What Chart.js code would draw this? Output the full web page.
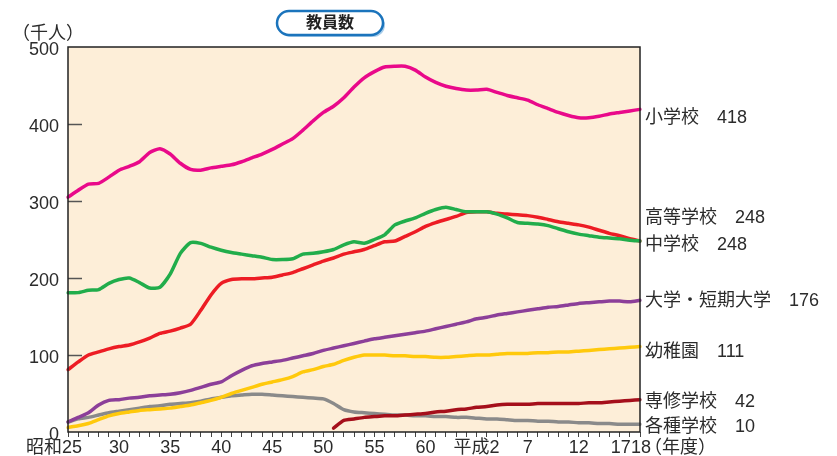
<!DOCTYPE html>
<html>
<head>
<meta charset="utf-8">
<script src="https://cdn.jsdelivr.net/npm/chart.js@4.4.0/dist/chart.umd.min.js"></script>
<style>
  html, body { margin: 0; padding: 0; background: #fff; }
  #wrap { position: relative; width: 837px; height: 456px; }
</style>
</head>
<body>
<div id="wrap"><canvas id="c"></canvas></div>
<script>
// fiscal years, 昭和25 (1950) .. 平成18 (2006)
const categories = [
  '昭和25','昭和26','昭和27','昭和28','昭和29','昭和30','昭和31','昭和32','昭和33','昭和34',
  '昭和35','昭和36','昭和37','昭和38','昭和39','昭和40','昭和41','昭和42','昭和43','昭和44',
  '昭和45','昭和46','昭和47','昭和48','昭和49','昭和50','昭和51','昭和52','昭和53','昭和54',
  '昭和55','昭和56','昭和57','昭和58','昭和59','昭和60','昭和61','昭和62','昭和63','平成元',
  '平成2','平成3','平成4','平成5','平成6','平成7','平成8','平成9','平成10','平成11',
  '平成12','平成13','平成14','平成15','平成16','平成17','平成18'
];

// x axis tick labels (which category, what text)
const tickCats = ['昭和25','昭和30','昭和35','昭和40','昭和45','昭和50','昭和55','昭和60','平成2','平成7','平成12','平成17','平成18'];
const tickLabels = ['昭和25','30','35','40','45','50','55','60','平成2','7','12','17','18'];
const yTicks = [0, 100, 200, 300, 400, 500];

// teachers, thousands
const elementary = [
  305,314,322,323,331,340,345,351,363,368,
  361,349,341,340,343,345,347,351,356,361,
  367,374,381,392,404,415,423,434,448,460,
  468,474,475,475,470,461,454,449,446,444,
  444,445,441,437,434,431,425,420,415,411,
  408,408,410,413,415,417,419
];
const juniorHigh = [
  181,181,184,185,193,198,200,194,187,188,
  205,232,246,245,240,236,233,231,229,227,
  224,224,225,231,232,234,237,243,247,245,
  250,256,269,274,278,284,289,292,289,286,
  286,286,283,278,272,271,270,268,264,260,
  257,255,253,252,251,249,248
];
const highSchool = [
  81,91,100,104,108,111,113,117,122,128,
  131,135,140,158,178,193,198,199,199,200,
  201,204,207,212,217,222,226,231,234,237,
  242,247,248,254,260,267,272,276,280,285,
  286,286,284,283,282,281,279,276,273,271,
  269,266,262,258,255,251,248
];
const university = [
  13,19,25,35,41,42,44,45,47,48,
  49,51,54,58,62,65,73,80,86,89,
  91,93,96,99,102,106,109,112,115,118,
  121,123,125,127,129,131,134,137,140,143,
  147,149,152,154,156,158,160,162,163,165,
  167,168,169,170,170,169,171
];
const kindergarten = [
  6,8,11,16,21,24,26,28,29,30,
  31,33,35,38,41,45,50,54,58,62,
  65,68,72,78,81,85,88,93,97,100,
  100,100,99,99,98,98,97,97,98,99,
  100,100,101,102,102,102,103,103,104,104,
  105,106,107,108,109,110,111
];
const specialTraining = [
  null,null,null,null,null,null,null,null,null,null,
  null,null,null,null,null,null,null,null,null,null,
  null,null,null,null,null,null,5,15,17,19,
  20,21,21,22,23,24,26,27,29,30,
  32,33,35,36,36,36,37,37,37,37,
  37,38,38,39,40,41,42
];
const miscSchools = [
  13,17,19,22,25,27,29,31,33,34,
  36,37,38,40,43,45,47,48,49,49,
  48,47,46,45,44,43,37,29,26,25,
  24,23,22,22,21,21,20,20,19,19,
  18,17,17,16,15,15,14,14,13,13,
  12,12,11,11,10,10,10
];

const seriesNames = ['小学校','中学校','高等学校','大学・短期大学','幼稚園','専修学校','各種学校'];
const latestValues = [418, 248, 248, 176, 111, 42, 10];
const seriesColors = ['#e9098a','#21ad4b','#ed1c24','#8c3f99','#ffc90c','#a50f1b','#8a8a8a'];

const FONT = "'Liberation Sans', 'Noto Sans CJK JP', sans-serif";
const TEXT = '#2b2b2b';

const decorate = {
  id: 'decorate',
  beforeDraw(chart) {
    const { ctx, chartArea: a } = chart;
    ctx.save();
    ctx.fillStyle = '#fdeed8';
    ctx.fillRect(a.left, a.top, a.right - a.left, a.bottom - a.top);
    ctx.restore();
  },
  beforeDatasetsDraw(chart) {
    const { ctx, chartArea: a, scales } = chart;
    ctx.save();
    ctx.strokeStyle = '#555';
    ctx.lineWidth = 1.5;
    yTicks.slice(1, -1).forEach(v => {
      const y = Math.round(scales.y.getPixelForValue(v)) + 0.5;
      ctx.beginPath();
      ctx.moveTo(a.left, y);
      ctx.lineTo(a.left + 14, y);
      ctx.stroke();
    });
    ctx.restore();
  },
  afterDraw(chart) {
    const { ctx, chartArea: a, scales } = chart;
    ctx.save();
    // plot frame
    ctx.strokeStyle = '#222';
    ctx.lineWidth = 1.5;
    ctx.strokeRect(a.left, a.top, a.right - a.left, a.bottom - a.top);

    // x labels
    ctx.fillStyle = TEXT;
    ctx.font = '18px ' + FONT;
    ctx.textBaseline = 'alphabetic';
    tickCats.forEach((c, k) => {
      const x = scales.x.getPixelForValue(categories.indexOf(c));
      const t = tickLabels[k];
      if (t === '昭和25') { ctx.textAlign = 'right'; ctx.fillText(t, x + 14, 453); }
      else if (t === '17') { ctx.textAlign = 'right'; ctx.fillText(t, x + 1, 453); }
      else if (t === '18') { ctx.textAlign = 'left'; ctx.fillText(t, x - 9, 453); }
      else { ctx.textAlign = 'center'; ctx.fillText(t, x, 453); }
    });
    ctx.textAlign = 'left';
    ctx.fillText('（年度）', a.right + 4, 453);
    ctx.fillText('（千人）', 12, 39);

    // series labels at right
    const baselines = [123, 250, 223, 306, 357, 407, 432];
    seriesNames.forEach((n, k) => {
      ctx.fillText(n + '　' + latestValues[k], a.right + 5, baselines[k]);
    });

    // title pill
    const px = 277, py = 11, pw = 106, ph = 24;
    ctx.fillStyle = '#a9cdea';
    ctx.beginPath(); ctx.roundRect(px + 2, py + 2, pw, ph, 12); ctx.fill();
    ctx.fillStyle = '#fff';
    ctx.strokeStyle = '#1b74bc';
    ctx.lineWidth = 2.5;
    ctx.beginPath(); ctx.roundRect(px, py, pw, ph, 12); ctx.fill(); ctx.stroke();
    ctx.fillStyle = '#222';
    ctx.font = 'bold 16px ' + FONT;
    ctx.textAlign = 'center';
    ctx.textBaseline = 'middle';
    ctx.fillText('教員数', px + pw / 2, py + ph / 2 + 1);
    ctx.restore();
  }
};

const seriesData = [elementary, juniorHigh, highSchool, university, kindergarten, specialTraining, miscSchools];

new Chart(document.getElementById('c'), {
  type: 'line',
  data: {
    labels: categories,
    datasets: seriesData.map((d, k) => ({
      label: seriesNames[k],
      data: d,
      borderColor: seriesColors[k],
      backgroundColor: seriesColors[k],
      borderWidth: 3.5,
      pointRadius: 0,
      tension: 0.2,
      borderJoinStyle: 'round',
      borderCapStyle: 'round',
      fill: false
    }))
  },
  options: {
    responsive: true,
    maintainAspectRatio: false,
    animation: false,
    layout: { padding: { left: 10, right: 197, top: 47, bottom: 0 } },
    scales: {
      x: {
        type: 'category',
        offset: false,
        ticks: { display: false },
        grid: { display: true, drawOnChartArea: false, drawTicks: true, tickLength: 5, color: '#444', lineWidth: 1 },
        border: { display: false },
        afterFit(s) { s.height = 24; }
      },
      y: {
        min: 0,
        max: 500,
        ticks: { stepSize: 100, color: TEXT, padding: 9, labelOffset: 3, font: { size: 18, family: FONT } },
        grid: { display: false, drawTicks: false },
        border: { display: false },
        afterFit(s) { s.width = 58; }
      }
    },
    plugins: {
      legend: { display: false },
      tooltip: { enabled: false }
    }
  },
  plugins: [decorate]
});
</script>
</body>
</html>
